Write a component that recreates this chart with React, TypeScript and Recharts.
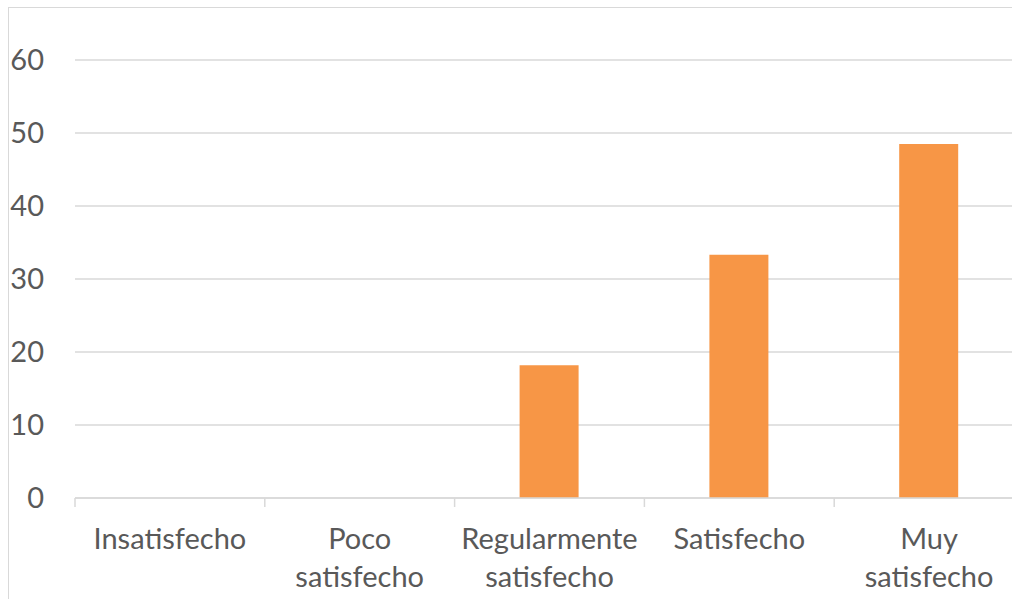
import { BarChart, Bar, XAxis, YAxis, CartesianGrid } from 'recharts';

const categories = ['Insatisfecho', 'Poco satisfecho', 'Regularmente satisfecho', 'Satisfecho', 'Muy satisfecho'];
const values = [0, 0, 18.18, 33.33, 48.48];
const yTicks = [0, 10, 20, 30, 40, 50, 60];

const chartData = categories.map((name, i) => ({ name, value: values[i] }));

const TEXT = '#595959';
const LINE = '#d9d9d9';
const FONT = 'Lato, "Open Sans", sans-serif';

function CategoryTick(props: any) {
  const { x, y, payload } = props;
  const half = payload.offset ?? 95;
  const lines = String(payload.value).split(' ');
  return (
    <g>
      <line x1={x - half} y1={y - 8} x2={x - half} y2={y + 1} stroke={LINE} strokeWidth={1.5} />
      <text x={x} y={y + 43} textAnchor="middle" fill={TEXT} fontSize={29} fontFamily={FONT}>
        {lines.map((l, i) => (
          <tspan key={i} x={x} dy={i === 0 ? 0 : 38}>
            {l}
          </tspan>
        ))}
      </text>
    </g>
  );
}

export default function App() {
  return (
    <div
      style={{
        position: 'fixed',
        left: 8,
        top: 7,
        width: 1004,
        height: 592,
        overflow: 'hidden',
        borderLeft: `1px solid ${LINE}`,
        borderTop: `1px solid ${LINE}`,
        background: '#fff',
      }}
    >
      <BarChart
        width={1100}
        height={591}
        data={chartData}
        margin={{ top: 52, right: 85, left: 0, bottom: 41 }}
      >
        <CartesianGrid vertical={false} stroke={LINE} strokeWidth={1.5} />
        <XAxis
          dataKey="name"
          height={60}
          axisLine={{ stroke: LINE, strokeWidth: 1.5 }}
          tickLine={false}
          tick={<CategoryTick />}
          interval={0}
        />
        <YAxis
          width={66}
          domain={[0, 60]}
          ticks={yTicks}
          axisLine={false}
          tickLine={false}
          tickSize={0}
          tickMargin={31}
          tick={{ fill: TEXT, fontSize: 29, fontFamily: FONT }}
        />
        <Bar dataKey="value" fill="#F79646" barSize={59} isAnimationActive={false} />
      </BarChart>
    </div>
  );
}
